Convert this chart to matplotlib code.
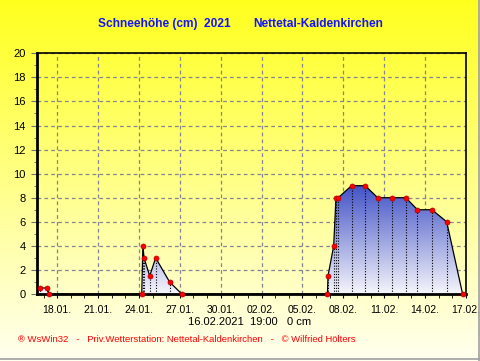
import numpy as np
import pandas as pd
import matplotlib
matplotlib.use("Agg")
import matplotlib.pyplot as plt
import matplotlib.dates as mdates
from matplotlib.colors import LinearSegmentedColormap
from matplotlib.lines import Line2D

# Messzeitpunkte und Schneehöhe (cm)
zeiten = [
    "2021-01-16 18:00", "2021-01-17 06:00", "2021-01-17 10:00",
    "2021-01-24 05:00", "2021-01-24 07:00", "2021-01-24 09:00", "2021-01-24 19:00",
    "2021-01-25 05:30", "2021-01-26 06:00", "2021-01-27 03:30",
    "2021-02-06 20:00", "2021-02-06 21:00", "2021-02-07 07:00", "2021-02-07 11:00",
    "2021-02-07 15:00", "2021-02-08 14:30", "2021-02-09 14:30", "2021-02-10 12:30",
    "2021-02-11 13:40", "2021-02-12 14:00", "2021-02-13 10:30", "2021-02-14 12:00",
    "2021-02-15 14:00", "2021-02-16 18:00",
]
schnee = [
    0.5, 0.5, 0,
    0, 4, 3, 1.5,
    3, 1, 0,
    0, 1.5, 4, 8,
    8, 9, 9, 8,
    8, 8, 7, 7,
    6, 0,
]
tick_tage = ["2021-01-18", "2021-01-21", "2021-01-24", "2021-01-27", "2021-01-30",
             "2021-02-02", "2021-02-05", "2021-02-08", "2021-02-11", "2021-02-14",
             "2021-02-17"]
y_ticks = list(range(0, 21, 2))

titel_links = "Schneehöhe (cm)  2021"
titel_rechts = "Nettetal-Kaldenkirchen"
untertitel = "16.02.2021  19:00   0 cm"
fusszeile = "® WsWin32   -   Priv.Wetterstation: Nettetal-Kaldenkirchen   -   © Wilfried Hölters"

plt.rcParams['font.family'] = ['Liberation Sans', 'DejaVu Sans']

W, H = 481, 361
fig = plt.figure(figsize=(W / 100, H / 100), dpi=100)

# Hintergrund: Verlauf gelb -> hellgelb
bg = fig.add_axes([0, 0, 1, 1], zorder=-10)
verlauf = np.linspace(0, 1, 256).reshape(-1, 1)
bg_cmap = LinearSegmentedColormap.from_list('bg', ['#ffff1e', '#fffff0'])
bg.imshow(verlauf, aspect='auto', cmap=bg_cmap, extent=[0, 1, 0, 1], origin='upper')
bg.set_xlim(0, 1)
bg.set_ylim(0, 1)
bg.axis('off')
fig.add_artist(Line2D([479.5 / W, 479.5 / W], [0, 1], color='#a0a0a0', lw=1.2))
fig.add_artist(Line2D([0, 1], [2.5 / H, 2.5 / H], color='#a0a0a0', lw=1.2))

# Diagramm
ax = fig.add_axes([36.7 / W, 1 - 294 / H, (466 - 36.7) / W, (294 - 53.3) / H])
ax.patch.set_alpha(0)

t = pd.to_datetime(zeiten)
xs = mdates.date2num(t)
ys = np.array(schnee, dtype=float)

poly = ax.fill_between(xs, ys, 0, facecolor='none', edgecolor='none')
fill_cmap = LinearSegmentedColormap.from_list('fill', ['#f6f6fb', '#4252c6'])
img = ax.imshow(np.linspace(0, 1, 256).reshape(-1, 1), aspect='auto', cmap=fill_cmap,
                extent=[xs.min(), xs.max(), 0, ys.max()], origin='lower', zorder=1)
img.set_clip_path(poly.get_paths()[0], transform=ax.transData)

mask = ys > 0
ax.vlines(xs[mask], 0, ys[mask], colors='black', linestyles=(0, (1, 1.5)), lw=0.8, zorder=2)
ax.plot(xs, ys, color='black', lw=0.9, zorder=3)
ax.plot(xs, ys, 'o', ms=3.6, mfc='#ff0000', mec='#b00000', mew=0.5, zorder=4,
        clip_on=False)

ax.set_xlim(mdates.date2num(pd.Timestamp("2021-01-16 12:00")),
            mdates.date2num(pd.Timestamp("2021-02-17 00:00")))
ax.set_ylim(0, 20)

ax.set_xticks(mdates.date2num(pd.to_datetime(tick_tage)))
ax.xaxis.set_major_formatter(mdates.DateFormatter('%d.%m.'))
ax.xaxis.set_minor_locator(mdates.DayLocator())
ax.set_yticks(y_ticks)
ax.yaxis.set_minor_locator(matplotlib.ticker.MultipleLocator(1))

ax.tick_params(axis='x', which='major', length=3, pad=5, labelsize=7.5)
ax.tick_params(axis='x', which='minor', length=3)
ax.tick_params(axis='y', which='major', length=4, pad=4, labelsize=8, color='#707070')
ax.tick_params(axis='y', which='minor', length=2, color='#707070')

ax.grid(True, which='major', linestyle=(0, (3, 2.5)), color='#858590', lw=0.9, zorder=0)
ax.set_axisbelow(True)

for s in ['left', 'bottom']:
    ax.spines[s].set_linewidth(2)
for s in ['top', 'right']:
    ax.spines[s].set_linewidth(1.2)

# Texte
fig.text(98 / W, 1 - 24 / H, titel_links, color='#1414ff', fontsize=8.6,
         fontweight='bold', ha='left', va='center')
fig.text(253 / W, 1 - 24 / H, titel_rechts, color='#1414ff', fontsize=8.6,
         fontweight='bold', ha='left', va='center')
fig.text(250 / W, 1 - 322 / H, untertitel, color='black', fontsize=8,
         ha='center', va='center')
fig.text(18 / W, 1 - 340 / H, fusszeile, color='#ff0000', fontsize=6.8,
         ha='left', va='center')

fig.savefig('out.png', dpi=100)
